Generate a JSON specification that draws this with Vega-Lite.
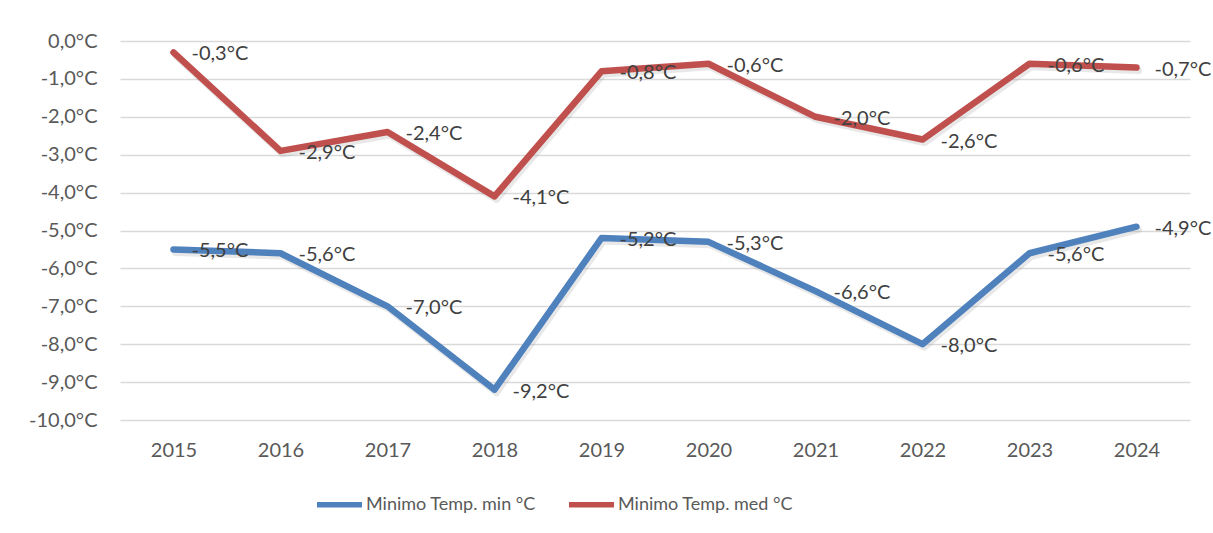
{
  "$schema": "https://vega.github.io/schema/vega-lite/v6.json",
  "width": 1070,
  "height": 379,
  "autosize": {"type": "none"},
  "padding": {"left": 120, "top": 41, "right": 23, "bottom": 113},
  "background": "white",
  "config": {"view": {"stroke": null}, "font": "Lato"},
  "data": {
    "values": [
      {"anno": "2015", "serie": "Minimo Temp. min °C", "temp": -5.5},
      {"anno": "2016", "serie": "Minimo Temp. min °C", "temp": -5.6},
      {"anno": "2017", "serie": "Minimo Temp. min °C", "temp": -7.0},
      {"anno": "2018", "serie": "Minimo Temp. min °C", "temp": -9.2},
      {"anno": "2019", "serie": "Minimo Temp. min °C", "temp": -5.2},
      {"anno": "2020", "serie": "Minimo Temp. min °C", "temp": -5.3},
      {"anno": "2021", "serie": "Minimo Temp. min °C", "temp": -6.6},
      {"anno": "2022", "serie": "Minimo Temp. min °C", "temp": -8.0},
      {"anno": "2023", "serie": "Minimo Temp. min °C", "temp": -5.6},
      {"anno": "2024", "serie": "Minimo Temp. min °C", "temp": -4.9},
      {"anno": "2015", "serie": "Minimo Temp. med °C", "temp": -0.3},
      {"anno": "2016", "serie": "Minimo Temp. med °C", "temp": -2.9},
      {"anno": "2017", "serie": "Minimo Temp. med °C", "temp": -2.4},
      {"anno": "2018", "serie": "Minimo Temp. med °C", "temp": -4.1},
      {"anno": "2019", "serie": "Minimo Temp. med °C", "temp": -0.8},
      {"anno": "2020", "serie": "Minimo Temp. med °C", "temp": -0.6},
      {"anno": "2021", "serie": "Minimo Temp. med °C", "temp": -2.0},
      {"anno": "2022", "serie": "Minimo Temp. med °C", "temp": -2.6},
      {"anno": "2023", "serie": "Minimo Temp. med °C", "temp": -0.6},
      {"anno": "2024", "serie": "Minimo Temp. med °C", "temp": -0.7}
    ]
  },
  "encoding": {
    "x": {
      "field": "anno",
      "type": "ordinal",
      "scale": {"type": "point", "padding": 0.5},
      "axis": {
        "title": null,
        "labelAngle": 0,
        "labelFontSize": 20,
        "labelColor": "#595959",
        "labelPadding": 20,
        "ticks": false,
        "domain": false,
        "grid": false
      }
    },
    "y": {
      "field": "temp",
      "type": "quantitative",
      "scale": {"domain": [-10, 0], "nice": false, "zero": false},
      "axis": {
        "title": null,
        "values": [0, -1, -2, -3, -4, -5, -6, -7, -8, -9, -10],
        "labelExpr": "(datum.value < 0 ? '-' : '') + replace(format(abs(datum.value), '.1f'), '.', ',') + '°C'",
        "labelFontSize": 20,
        "labelColor": "#595959",
        "labelPadding": 23,
        "ticks": false,
        "domain": false,
        "grid": true,
        "gridColor": "#d9d9d9",
        "gridWidth": 1.5
      }
    }
  },
  "layer": [
    {
      "mark": {"type": "line", "stroke": "#7f7f7f", "strokeOpacity": 0.18, "strokeWidth": 7, "strokeCap": "round", "strokeJoin": "round", "xOffset": 2, "yOffset": 3},
      "encoding": {"detail": {"field": "serie"}}
    },
    {
      "mark": {"type": "line", "strokeWidth": 6.5, "strokeCap": "round", "strokeJoin": "round"},
      "encoding": {
        "color": {
          "field": "serie",
          "type": "nominal",
          "scale": {"domain": ["Minimo Temp. min °C", "Minimo Temp. med °C"], "range": ["#4f81bd", "#c0504d"]},
          "legend": {
            "title": null,
            "orient": "none",
            "direction": "horizontal",
            "legendX": 194,
            "legendY": 438,
            "padding": 0,
            "symbolType": "stroke",
            "symbolSize": 2025,
            "symbolStrokeWidth": 5.5,
            "labelFontSize": 18,
            "labelColor": "#595959",
            "labelOffset": 1,
            "columnPadding": 22,
            "labelLimit": 400
          }
        }
      }
    },
    {
      "transform": [
        {"calculate": "(datum.temp < 0 ? '-' : '') + replace(format(abs(datum.temp), '.1f'), '.', ',') + '°C'", "as": "etichetta"}
      ],
      "mark": {"type": "text", "align": "left", "baseline": "middle", "dx": 18, "dy": 2, "fontSize": 20, "color": "#404040"},
      "encoding": {"text": {"field": "etichetta"}}
    }
  ]
}
